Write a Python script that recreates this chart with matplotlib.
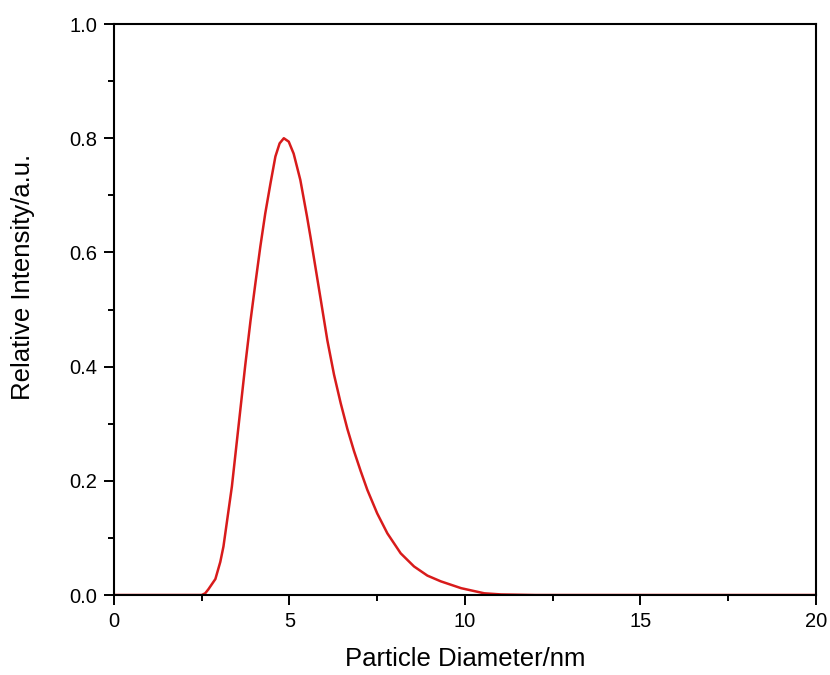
import matplotlib
matplotlib.use("Agg")
import matplotlib.pyplot as plt
from matplotlib.ticker import MultipleLocator

plt.rcParams['font.family'] = ['Liberation Sans', 'DejaVu Sans']

# particle size distribution
diameter = [0.0, 2.5, 2.6, 2.69, 2.89, 3.03, 3.12, 3.36, 3.6, 3.74, 3.89, 4.03, 4.17,
            4.31, 4.46, 4.6, 4.72, 4.84, 4.98, 5.12, 5.31, 5.5, 5.6, 5.89,
            6.08, 6.27, 6.46, 6.65, 6.84, 7.03, 7.22, 7.5, 7.79, 8.17, 8.55,
            8.93, 9.31, 9.89, 10.55, 11.03, 12.0, 20.0]
intensity = [0.0, 0.0, 0.003, 0.01, 0.028, 0.058, 0.085, 0.19, 0.324, 0.402, 0.48, 0.546, 0.61,
             0.668, 0.721, 0.768, 0.791, 0.800, 0.794, 0.773, 0.727, 0.663, 0.627, 0.518,
             0.446, 0.386, 0.336, 0.291, 0.252, 0.217, 0.184, 0.143, 0.108, 0.073, 0.05,
             0.034, 0.024, 0.012, 0.003, 0.001, 0.0, 0.0]

fig = plt.figure(figsize=(8.3, 6.75), dpi=100)
ax = fig.add_axes([0.1373, 0.1185, 0.8457, 0.8459])
ax.plot(diameter, intensity, color='#d81b1b', lw=1.8, solid_joinstyle='round')

ax.set_xlim(0, 20)
ax.set_ylim(0, 1.0)
ax.xaxis.set_major_locator(MultipleLocator(5))
ax.xaxis.set_minor_locator(MultipleLocator(2.5))
ax.yaxis.set_major_locator(MultipleLocator(0.2))
ax.yaxis.set_minor_locator(MultipleLocator(0.1))
ax.yaxis.set_major_formatter(plt.FormatStrFormatter('%.1f'))
ax.tick_params(which='both', direction='out', width=1.4, labelsize=14.5)
ax.tick_params(which='major', length=7, pad=5)
ax.tick_params(which='minor', length=4)
for s in ax.spines.values():
    s.set_linewidth(1.5)

ax.set_xlabel("Particle Diameter/nm", fontsize=18.5, labelpad=12)
ax.set_ylabel("Relative Intensity/a.u.", fontsize=18.5)
# label sits a bit above centre in the original
ax.yaxis.set_label_coords(-0.113, 0.557)

fig.savefig("out.png", dpi=100)
